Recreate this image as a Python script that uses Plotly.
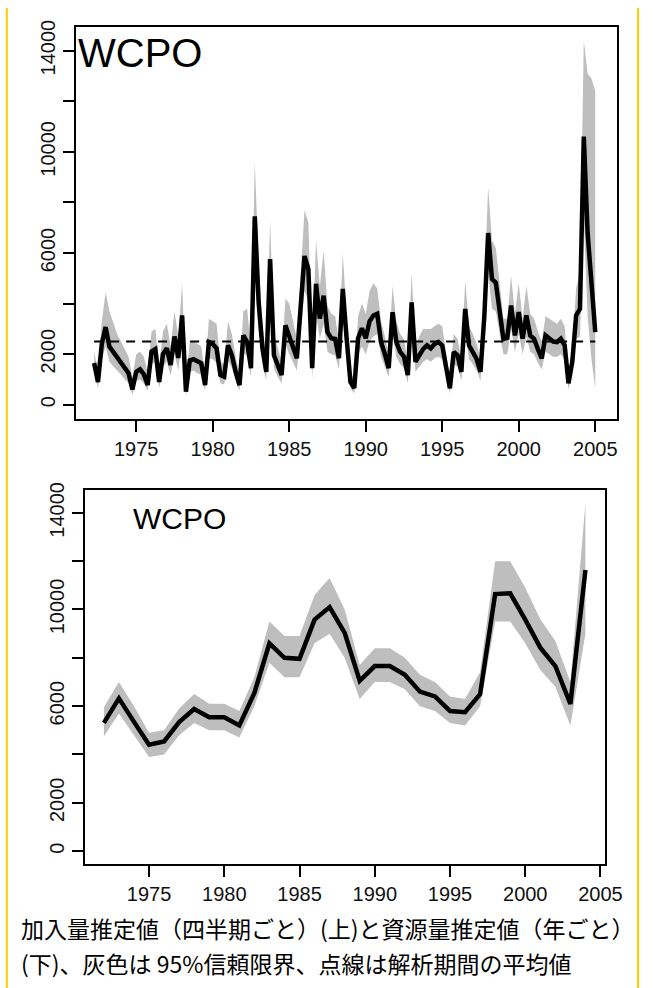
import plotly.graph_objects as go

# ---------------- DATA ----------------
# Top panel: quarterly recruitment estimates (1972 Q2 .. 2005 Q1)
quarter_start = 1972.25
quarter_step = 0.25
recruit = [1650, 900, 2400,
           3070, 2300, 2100, 1850,
           1700, 1450, 1250, 600,
           1300, 1400, 1200, 780,
           2100, 2200, 900, 2000,
           2230, 1570, 2700, 1850,
           3530, 520, 1750, 1800,
           1700, 1640, 780, 2480,
           2400, 2230, 1175, 1110,
           2350, 1960, 1300, 780,
           2740, 2480, 1450, 7450,
           4050, 2230, 1300, 5760,
           1960, 1500, 1175, 3140,
           2740, 2300, 1840, 3900,
           5880, 5370, 1450, 4780,
           3410, 4310, 2870, 2630,
           2600, 1840, 4580, 2630,
           900, 660, 2630, 3020,
           2630, 3300, 3530, 3600,
           2480, 2000, 1450, 3660,
           2480, 2090, 1900, 1175,
           4050, 1700, 1960, 2200,
           2350, 2230, 2400, 2480,
           2350, 1500, 650, 2090,
           1960, 1300, 3790, 2350,
           2090, 1800, 1300, 3500,
           6790, 4970, 4830, 3700,
           2600, 2650, 3920, 2740,
           3660, 2610, 3530, 2740,
           2610, 2200, 1830, 2740,
           2610, 2500, 2480, 2610,
           2350, 850, 1700, 3530,
           3790, 10600, 6800, 4800,
           2870]
recruit_upper = [2100, 1300, 3300,
                 4450, 3700, 3200, 2800,
                 2500, 2200, 1900, 1100,
                 2000, 2100, 1900, 1300,
                 2900, 3000, 1500, 2900,
                 3200, 2300, 3700, 2700,
                 4800, 900, 2500, 2500,
                 2400, 2300, 1200, 3400,
                 3300, 3200, 1700, 1600,
                 3300, 2800, 1900, 1200,
                 3700, 3800, 2200, 9600,
                 5600, 3200, 1900, 7300,
                 2800, 2200, 1700, 4200,
                 4000, 3300, 2600, 5200,
                 7700, 7200, 2100, 6500,
                 4700, 6100, 3900, 3600,
                 3500, 2500, 6000, 3500,
                 1300, 1000, 3500, 4000,
                 3600, 4500, 4800, 4600,
                 3300, 2700, 2000, 4700,
                 3300, 2800, 2600, 1600,
                 5200, 2300, 2700, 3000,
                 3000, 3000, 3100, 3200,
                 3100, 2100, 1000, 2800,
                 2600, 1800, 4900, 3100,
                 2800, 2400, 1800, 4700,
                 8600, 6500, 6200, 4800,
                 3400, 3400, 5100, 3600,
                 4800, 3400, 4700, 3600,
                 3400, 2900, 2500, 3500,
                 3400, 3300, 3200, 3400,
                 3100, 1200, 2300, 4600,
                 5300, 14400, 13100, 12900,
                 12400]
recruit_lower = [1300, 650, 1800,
                 2300, 1700, 1500, 1350,
                 1200, 1000, 850, 400,
                 950, 1000, 850, 550,
                 1600, 1700, 650, 1500,
                 1700, 1150, 2000, 1350,
                 2600, 350, 1300, 1350,
                 1250, 1200, 550, 1850,
                 1800, 1650, 850, 800,
                 1750, 1450, 950, 550,
                 2100, 1900, 1100, 5700,
                 3000, 1650, 950, 4400,
                 1450, 1100, 850, 2400,
                 2000, 1700, 1350, 2900,
                 4500, 4100, 1050, 3600,
                 2600, 3200, 2100, 2000,
                 1950, 1400, 3500, 2000,
                 650, 450, 2000, 2300,
                 2000, 2500, 2700, 2800,
                 1900, 1500, 1100, 2800,
                 1900, 1600, 1450, 850,
                 3100, 1300, 1500, 1700,
                 1800, 1700, 1850, 1900,
                 1800, 1100, 450, 1600,
                 1500, 950, 2900, 1800,
                 1600, 1350, 950, 2700,
                 5200, 3800, 3700, 2800,
                 2000, 2000, 3000, 2100,
                 2800, 2000, 2700, 2100,
                 2000, 1650, 1400, 2100,
                 2000, 1900, 1900, 2000,
                 1800, 600, 1300, 2600,
                 2700, 7400, 3500, 1800,
                 650]
recruit_mean = 2500

# Bottom panel: annual biomass estimates
years = list(range(1972, 2005))
biomass = [5310, 6320, 5350, 4400, 4540, 5340, 5880, 5540, 5540, 5200,
           6550, 8600, 8000, 7960, 9580, 10100, 9030, 7050, 7660, 7660,
           7300, 6600, 6400, 5800, 5750, 6500, 10640, 10670, 9580, 8420,
           7660, 6090, 11630]
biomass_upper = [5950, 7000, 6000, 4900, 5000, 5900, 6500, 6100, 6100, 5800,
                 7200, 9500, 8900, 8900, 10600, 11300, 10000, 7700, 8400, 8400,
                 8000, 7300, 7000, 6400, 6300, 7400, 12000, 12000, 10900, 9600,
                 8700, 7000, 14400]
biomass_lower = [4750, 5700, 4800, 3900, 4000, 4800, 5300, 5000, 5000, 4700,
                 6000, 7800, 7200, 7200, 8600, 9000, 8000, 6300, 7000, 7000,
                 6700, 6000, 5800, 5300, 5200, 6000, 9500, 9500, 8600, 7500,
                 6800, 5200, 9000]

y_tickvals = [0, 2000, 4000, 6000, 8000, 10000, 12000, 14000]
y_ticktext = ["0", "2000", "", "6000", "", "10000", "", "14000"]
x_tickvals = [1975, 1980, 1985, 1990, 1995, 2000, 2005]
x_ticktext = ["1975", "1980", "1985", "1990", "1995", "2000", "2005"]
panel_label = "WCPO"
caption_lines = ["加入量推定値（四半期ごと）(上)と資源量推定値（年ごと）",
                 "(下)、灰色は 95%信頼限界、点線は解析期間の平均値"]

# ---------------- FIGURE ----------------
W, H = 659, 988
quarters = [quarter_start + i * quarter_step for i in range(len(recruit))]
GREY = "#BEBEBE"
FONT = "Liberation Sans, Arial, Helvetica, sans-serif"

fig = go.Figure()

# top panel
fig.add_trace(go.Scatter(x=quarters, y=recruit_lower, mode="lines",
                         line=dict(width=0, color="rgba(0,0,0,0)"),
                         hoverinfo="skip", showlegend=False, xaxis="x", yaxis="y"))
fig.add_trace(go.Scatter(x=quarters, y=recruit_upper, mode="lines", fill="tonexty",
                         fillcolor=GREY, line=dict(width=0, color="rgba(0,0,0,0)"),
                         hoverinfo="skip", showlegend=False, xaxis="x", yaxis="y"))
fig.add_trace(go.Scatter(x=[quarters[0], quarters[-1]], y=[recruit_mean, recruit_mean],
                         mode="lines", line=dict(color="black", width=2, dash="9px,7px"),
                         showlegend=False, xaxis="x", yaxis="y"))
fig.add_trace(go.Scatter(x=quarters, y=recruit, mode="lines",
                         line=dict(color="black", width=4.5, shape="linear"),
                         showlegend=False, xaxis="x", yaxis="y"))

# bottom panel
fig.add_trace(go.Scatter(x=years, y=biomass_lower, mode="lines",
                         line=dict(width=0, color="rgba(0,0,0,0)"),
                         hoverinfo="skip", showlegend=False, xaxis="x2", yaxis="y2"))
fig.add_trace(go.Scatter(x=years, y=biomass_upper, mode="lines", fill="tonexty",
                         fillcolor=GREY, line=dict(width=0, color="rgba(0,0,0,0)"),
                         hoverinfo="skip", showlegend=False, xaxis="x2", yaxis="y2"))
fig.add_trace(go.Scatter(x=years, y=biomass, mode="lines",
                         line=dict(color="black", width=4.5),
                         showlegend=False, xaxis="x2", yaxis="y2"))


def px_x(p):
    return p / W


def px_y(p):
    return 1 - p / H


axis_common = dict(showgrid=False, zeroline=False, showline=True, mirror=True,
                   linecolor="black", linewidth=2, ticks="outside", ticklen=11,
                   tickwidth=2, tickcolor="black",
                   tickfont=dict(family=FONT, size=20, color="#111111"))

# width left to autosize so the figure fills the whole browser window
fig.update_layout(
    height=H, autosize=True,
    margin=dict(l=0, r=0, t=0, b=0),
    paper_bgcolor="white", plot_bgcolor="white",
    showlegend=False,
    xaxis=dict(domain=[px_x(78), px_x(634)], range=[1971.056, 2006.40], anchor="y",
               tickvals=x_tickvals, ticktext=x_ticktext, **axis_common),
    yaxis=dict(domain=[px_y(414), px_y(19)], range=[-549, 14941], anchor="x",
               tickvals=y_tickvals, ticktext=y_ticktext, tickangle=-90, **axis_common),
    xaxis2=dict(domain=[px_x(87), px_x(622)], range=[1970.72, 2005.30], anchor="y2",
                tickvals=x_tickvals, ticktext=x_ticktext, **axis_common),
    yaxis2=dict(domain=[px_y(863), px_y(486)], range=[-534, 14943], anchor="x2",
                tickvals=y_tickvals, ticktext=y_ticktext, tickangle=-90, **axis_common),
)

# panel labels
fig.add_annotation(x=px_x(78), y=px_y(45), xref="paper", yref="paper", text=panel_label,
                   showarrow=False, xanchor="left", yanchor="middle",
                   font=dict(family=FONT, size=40, color="black"))
fig.add_annotation(x=px_x(135), y=px_y(515), xref="paper", yref="paper", text=panel_label,
                   showarrow=False, xanchor="left", yanchor="middle",
                   font=dict(family=FONT, size=30, color="black"))

# caption
for line, ypx in zip(caption_lines, [928, 963]):
    fig.add_annotation(x=px_x(20), y=px_y(ypx), xref="paper", yref="paper", text=line,
                       showarrow=False, xanchor="left", yanchor="middle",
                       font=dict(family="Noto Sans CJK JP", size=23, color="black"))

# yellow frame lines
for xp in [7, 656]:
    fig.add_shape(type="line", xref="paper", yref="paper",
                  x0=px_x(xp), x1=px_x(xp), y0=0, y1=1,
                  line=dict(color="#FFCC00", width=2))

fig.write_html("out.html", default_width="100%", default_height="%dpx" % H,
               config={"responsive": True})
